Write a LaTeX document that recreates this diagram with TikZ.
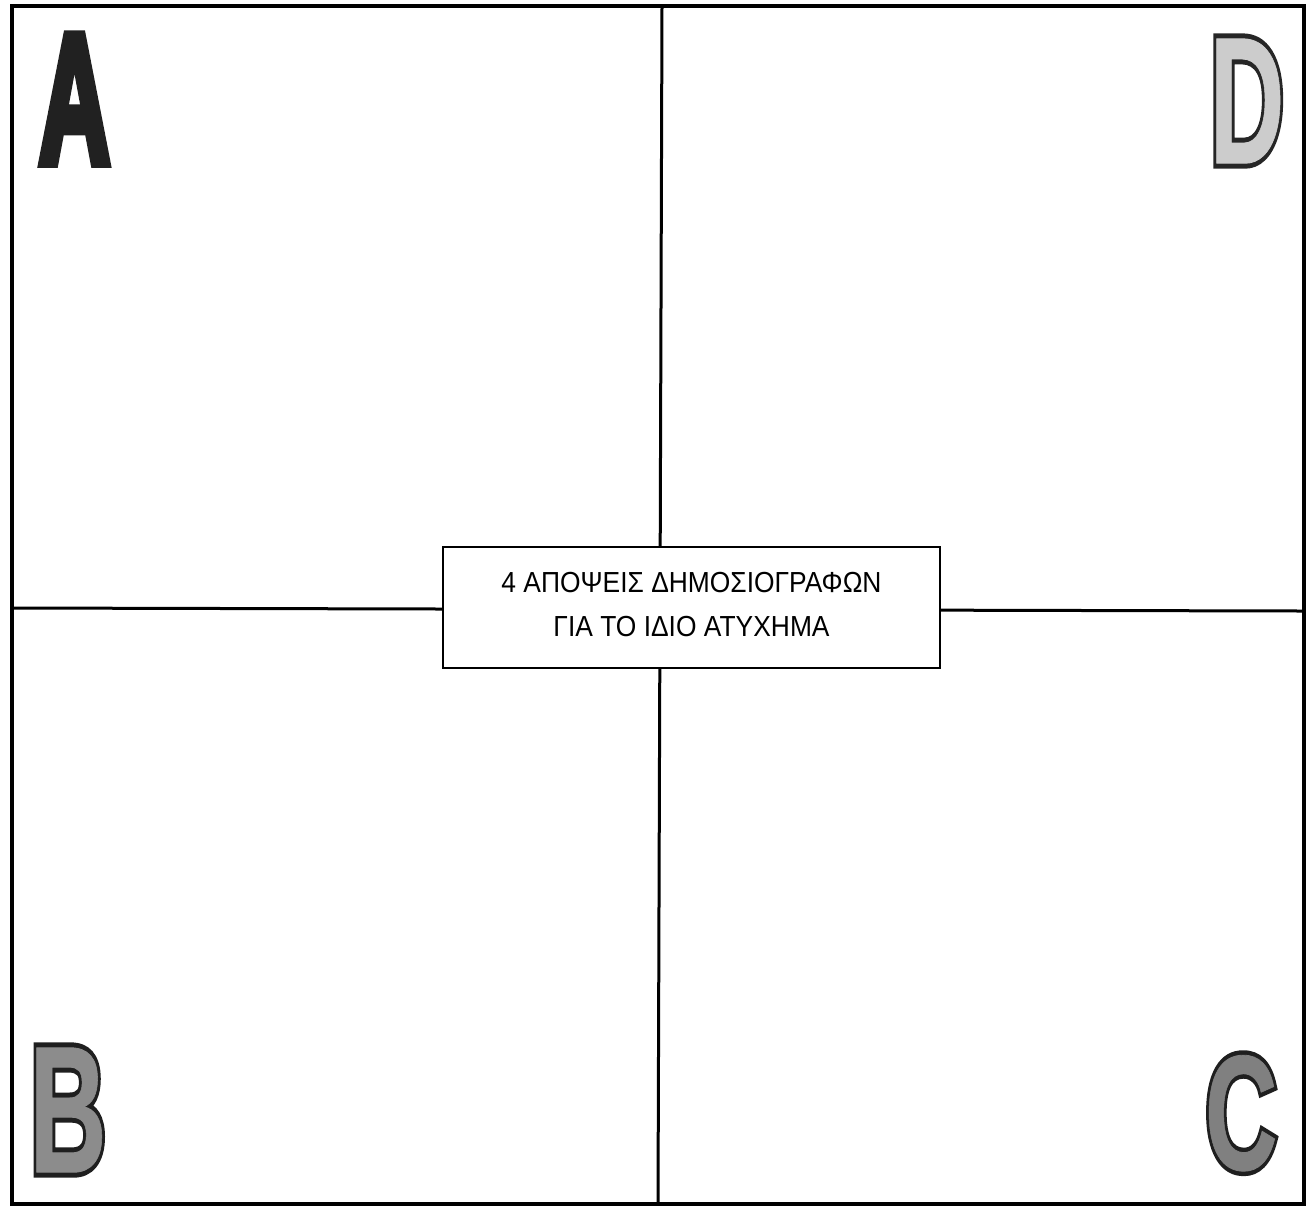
\documentclass[tikz,border=0pt]{standalone}
\usepackage{fontspec}
\setmainfont{Liberation Sans}
\newfontfamily\narrowsans[FakeStretch=0.91]{Liberation Sans}
\usepackage{graphicx}
\usetikzlibrary{positioning}
\newcommand{\bigglyph}[3]{\resizebox{#1}{#2}{#3}}
% heavy letter: #1 outline grey, #2 fill grey, #3 letter
\newcommand{\heavy}[3]{%
  \special{pdf:literal direct 2 Tr}%
  \rlap{\color[gray]{#1}\special{pdf:literal direct #1 G 0.6 w}#3}%
  {\color[gray]{#2}\special{pdf:literal direct #2 G 0.05 w}#3}%
  \special{pdf:literal direct 0 Tr}}

\begin{document}
\begin{tikzpicture}[
  x=0.5pt, y=-0.5pt,
  font=\narrowsans,
  frame/.style={line width=2pt},
  divider/.style={line width=1.5pt},
  titlebox/.style={draw, fill=white, line width=0.6pt, minimum width=248.5pt,
                   minimum height=60.5pt, inner sep=0pt},
  title/.style={align=center, inner sep=0pt, font=\narrowsans\fontsize{14.5}{22}\selectfont},
  bigletter/.style={inner sep=0pt, font=\bfseries}
]
\useasboundingbox (0,0) rectangle (1311,1212);
% outer frame
\coordinate (nw) at (12,6);
\coordinate (ne) at (1304,6);
\coordinate (sw) at (12,1204);
\coordinate (se) at (1304,1204);
\coordinate (topmid) at (662,6);
\coordinate (botmid) at (658,1204);
\coordinate (leftmid) at (12,608);
\coordinate (rightmid) at (1304,611);
\draw[frame] (nw) -- (ne) -- (se) -- (sw) -- cycle;
\draw[divider] (topmid) -- (botmid);
\draw[divider] (leftmid) -- (rightmid);
% centre box
\node[titlebox] (box) at (691.5,607.5) {};
\node[title, below=12.5pt of box.north, anchor=north] (boxtext)
  {4 ΑΠΟΨΕΙΣ ΔΗΜΟΣΙΟΓΡΑΦΩΝ\\ΓΙΑ ΤΟ ΙΔΙΟ ΑΤΥΧΗΜΑ};
% corner letters
\node[bigletter, below right=14.7pt and 13.3pt of nw] (letA)
  {\bigglyph{35.5pt}{63.2pt}{\heavy{0.13}{0.13}{A}}};
\node[bigletter, below left=16.2pt and 9.6pt of ne] (letD)
  {\bigglyph{37.4pt}{62.2pt}{\heavy{0.15}{0.8}{D}}};
\node[bigletter, above right=15.7pt and 8.6pt of sw] (letB)
  {\bigglyph{38.5pt}{62.2pt}{\heavy{0.12}{0.55}{B}}};
\node[bigletter, above left=16.2pt and 13.1pt of se] (letC)
  {\bigglyph{36.2pt}{57.2pt}{\heavy{0.12}{0.5}{C}}};
\end{tikzpicture}
\end{document}
